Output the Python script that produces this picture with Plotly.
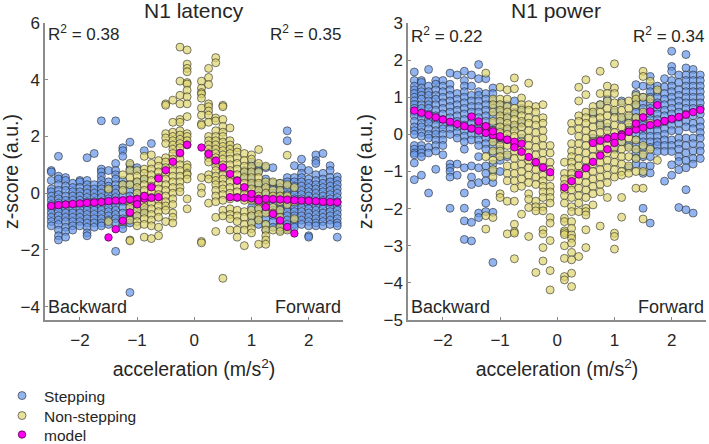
import plotly.graph_objects as go

# ---------- N1 latency: x positions and the y values seen in each column ----------
lat_step_x = [-2.5,-2.375,-2.25,-2.125,-2.0,-1.875,-1.75,-1.625,-1.5,-1.375,-1.25,-1.125,-1.0,-0.875,-0.75,
              0.875,1.0,1.125,1.25,1.375,1.5,1.625,1.75,1.875,2.0,2.125,2.25,2.375,2.5]
lat_step_y = [
 [.8,.75,.45,.15,.05,-.1,-.25,-.4,-.55,-.7,-.85,-1.0,-1.15],
 [1.3,.6,.5,.3,.1,-.05,-.2,-.35,-.5,-.65,-.8,-.95,-1.1,-1.3,-1.5,-1.65],
 [.55,.45,.25,.1,-.1,-.25,-.4,-.55,-.7,-.85,-1,-1.2,-1.35,-1.55],
 [.35,.2,.05,-.1,-.25,-.4,-.55,-.7,-.85,-1,-1.15,-1.3],
 [.45,.4,.2,.05,-.1,-.25,-.4,-.55,-.7,-.85,-1,-1.15],
 [1.25,.45,.3,.15,0,-.15,-.3,-.45,-.6,-.75,-.9,-1.05,-1.2,-1.4,-1.5],
 [1.4,.3,.15,0,-.15,-.3,-.45,-.6,-.75,-.9,-1.05,-1.2],
 [2.55,.85,.75,.6,.45,.3,.15,0,-.15,-.3,-.45,-.6,-.75,-.9,-1.05,-1.15],
 [.8,.4,.25,.1,-.05,-.2,-.35,-.5,-.65,-.8,-.95,-1.1],
 [2.55,1.05,.8,.65,.5,.3,.15,0,-.15,-.3,-.45,-.6,-.75,-.9,-1.05,-2.05],
 [1.6,1.5,1.3,.45,.3,.1,-.1,-.3,-.5,-.7,-.9,-1.1,-1.25],
 [1.8,1.0,.85,.3,.1,-.1,-.3,-.5,-.7,-.9,-1.05,-3.5],
 [.9,.4,.1,-.2,-.5,-.8],
 [1.5,.5,-.2,-.6],
 [1.75],
 [.8,.6],
 [1.1,.9,.75,.5,.3,-.2,-.5,-.8,-1.05],
 [.95,.8,.3,0,-.3,-.6,-.9,-1.1],
 [.9,.5,.3,0,-.3,-.6,-.9,-1.1,-1.3],
 [.9,.35,.15,0,-.2,-.4,-.6,-.8,-1,-1.2],
 [.35,.2,.05,-.1,-.25,-.4,-.55,-.7,-.85,-1,-1.15,-1.3],
 [2.2,1.85,.55,.4,.25,.1,-.05,-.2,-.35,-.5,-.65,-.8,-.95,-1.1,-1.25],
 [.97,.55,.4,.25,.1,-.05,-.2,-.35,-.5,-.65,-.8,-.95,-1.1,-1.2],
 [1.2,.9,.7,.55,.4,.25,.1,-.05,-.2,-.35,-.5,-.65,-.8,-.95,-1.1],
 [.8,.5,.35,.2,.05,-.1,-.25,-.4,-.55,-.7,-.85,-1,-1.15,-1.5,-1.55],
 [1.35,1.15,1.05,.65,.45,.3,.15,0,-.15,-.3,-.45,-.6,-.75,-.9,-1.05,-1.15],
 [1.4,.7,.5,.35,.2,.05,-.1,-.25,-.4,-.55,-.7,-.85,-1,-1.15],
 [.97,.8,.55,.4,.25,.1,-.05,-.2,-.35,-.5,-.65,-.8,-.95,-1.1],
 [.58,.45,.3,.15,0,-.15,-.3,-.45,-.6,-.75,-.9,-1.05,-1.15,-1.55],
]
lat_non_x = [-1.5,-1.25,-1.125,-1.0,-0.875,-0.75,-0.625,-0.5,-0.375,-0.25,-0.125,
             0.125,0.25,0.375,0.5,0.625,0.75,0.875,1.0,1.125,1.25,1.375,1.5,1.625,1.75]
lat_non_y = [
 [.15,-1.0],
 [.65,.3,.1,-1.0],
 [1.05,.8,.55,.3,-.3,-.5,-.7,-.95,-1.65,-1.68],
 [.8,.6,.4,.2,0,-.2,-.4,-.6,-.8,-1.0,-1.15],
 [1.3,.85,.7,.5,.3,.1,-.1,-.3,-.5,-.7,-.9,-1.1,-1.55],
 [1.35,1.05,.85,.65,.45,.25,.05,-.15,-.35,-.55,-.75,-.95,-1.15,-1.6],
 [1.15,.95,.75,.55,.35,.15,-.05,-.25,-.45,-.65,-.85,-1.2,-1.5],
 [3.15,3.1,2.1,1.95,1.75,1.25,1.1,.9,.7,.5,.3,.1,-.1,-.3,-.45,-.6,-1.0],
 [3.28,2.5,2.15,2.0,1.85,1.7,1.55,1.4,1.2,1.0,.8,.6,.4,.2,0,-.2,-.4,-.7,-.85,-1.05],
 [5.15,3.95,3.45,3.15,2.6,2.5,2.2,2.05,1.9,1.75,1.6,1.4,1.2,1.0,.8,.6,.4,.2,.05],
 [5.05,4.55,4.4,4.28,3.9,3.85,3.63,3.4,3.15,2.7,2.1,2,1.85,1.7,1.0,.9,.7,.65,.5,-.2,-.55],
 [3.95,3.7,3.55,3.5,3.35,3.0,2.75,2.45,2.4,.55,.2,0,-1.7,-1.75],
 [4.4,4.08,3.83,3.15,3.05,2.9,2.75,2.5,2.0,1.85,1.7,1.55,1.4,1.25,1.1,.65,.5,-.35],
 [4.78,4.6,2.65,2.55,2.2,2,1.85,1.7,1.55,1.4,1.25,1.1,.95,.8,.6,.45,.3,.1,-.1,-.3,-.85,-1.35],
 [3.1,3.05,2.6,2.35,2.15,2,1.8,1.65,1.5,1.35,1.2,1.0,.85,.65,.5,.3,.15,-.05,-.25,-.6,-.8,-3.0],
 [2.3,1.85,1.7,1.55,1.4,1.2,1.0,.8,.6,.4,.2,0,-.2,-.55,-.75,-.9,-1.3],
 [1.6,1.45,1.25,1.05,.85,.65,.45,.25,.05,-.15,-.6,-.8,-1,-1.3,-1.55],
 [1.4,1.15,.95,.75,.55,.35,.15,-.05,-.25,-.65,-.85,-1.1,-1.3,-1.85],
 [1.35,1.2,.95,.75,.55,.35,.15,-.05,-.25,-.6,-.8,-1.05,-1.25,-1.4],
 [1.54,1.05,.75,.55,.35,.1,-.1,-.3,-.55,-.75,-.95,-1.8],
 [.95,.4,.2,0,-.25,-.45,-.7,-1.1,-1.3,-1.5,-1.65,-1.8],
 [.4,.1,-.1,-.5,-.7,-1.3],
 [.35,.1,-.1,-.3,-.6,-.85,-1.2,-1.35],
 [1.34,.3,-.1,-.4,-1.3],
 [.2,-.3,-.9],
]
lat_model_step_x = [-2.5,-2.375,-2.25,-2.125,-2.0,-1.875,-1.75,-1.625,-1.5,-1.375,-1.25,-1.125,-1.0,-0.875,-0.75,-0.625,
                    0.625,0.75,0.875,1.0,1.125,1.25,1.375,1.5,1.625,1.75,1.875,2.0,2.125,2.25,2.375,2.5]
lat_model_step_y = [-.45,-.42,-.4,-.38,-.36,-.34,-.33,-.31,-.28,-.26,-.25,-.22,-.21,-.19,-.16,-.14,
                    -.14,-.15,-.16,-.18,-.2,-.2,-.21,-.22,-.23,-.25,-.26,-.27,-.28,-.3,-.31,-.32]
lat_model_non_x = [-1.5,-1.375,-1.25,-1.125,-1.0,-0.875,-0.75,-0.625,-0.5,-0.375,-0.25,-0.125,
                   0.125,0.25,0.375,0.5,0.625,0.75,0.875,1.0,1.125,1.25,1.375,1.5,1.625,1.75]
lat_model_non_y = [-1.56,-1.27,-.97,-.68,-.39,-.1,.21,.52,.81,1.11,1.42,1.71,
                   1.61,1.38,1.15,.91,.68,.44,.21,-.02,-.26,-.49,-.73,-.96,-1.19,-1.42]

# ---------- N1 power ----------
pow_step_x = [-2.5,-2.375,-2.25,-2.125,-2.0,-1.875,-1.75,-1.625,-1.5,-1.375,-1.25,-1.125,-1.0,-0.875,-0.75,-0.625,
              0.625,0.75,0.875,1.0,1.125,1.25,1.375,1.5,1.625,1.75,1.875,2.0,2.125,2.25,2.375,2.5]
pow_step_y = [
 [1.68,1.45,1.3,1.2,1.1,1.0,.9,.8,.7,.6,.5,.35,.2,.1,0,-.3,-.4,-.5,-.55,-.77,-1.22],
 [1.45,1.4,1.25,1.15,1.05,.95,.8,.7,.55,.45,.3,.2,.05,-.05,-.3,-.4,-.5,-.6,-1.1],
 [1.75,1.3,1.15,1.05,.9,.8,.7,.55,.4,.3,.15,0,-.1,-.35,-.5,-1.58],
 [1.45,1.35,1.2,1.05,.95,.8,.65,.5,.4,.25,.1,0,-.15,-.3,-.45,-.94],
 [1.45,1.3,1.15,1.0,.85,.7,.55,.4,.25,.15,0,-.15,-.3,-.55],
 [1.65,1.35,1.2,1.05,.9,.75,.6,.45,.3,.15,0,-.8,-.9,-1.0,-1.15,-1.99],
 [1.6,1.1,.95,.8,.65,.5,.35,.2,.05,-.1,-.8,-1.1],
 [1.7,1.45,1.3,1.15,1.0,.85,.7,.55,.4,.25,.1,-.05,-.2,-.4,-.9,-1.58,-1.99,-2.33,-2.83],
 [1.6,1.3,1.05,.9,.75,.6,.45,.3,.15,0,-.15,-.85,-1.15,-1.35,-2.37,-2.87],
 [1.88,1.5,1.15,1.05,.9,.75,.6,.45,.3,.15,0,-.15,-.3,-.6,-.9,-1.3,-2.12,-2.24],
 [1.5,1.1,.95,.8,.65,.5,.35,.2,.05,-.1,-.25,-.4,-.85,-1.05,-1.25,-1.85,-2.08],
 [1.25,1.1,.9,.7,.5,.3,.1,-.1,-.3,-.5,-.8,-1.0,-1.3,-2.1,-3.45],
 [.8,.6,.35,.1,-.15,-.4,-.7,-1.0],
 [.8,.5,.2,-.1,-.6],
 [.9,.6,.2,-.3],
 [.7,.3,-.1],
 [.55,-.1],
 [.8,.3],
 [.95,.2],
 [.6,-.4],
 [.9,.4,-.2],
 [.45,.2,-.3,-.9],
 [1.34,1.1,.9,.75,.6,.45,.3,.15,0,-.15,-.3,-.5,-.65,-.8],
 [1.3,1.0,.85,.7,.55,.4,.25,.1,-.05,-.2,-.35,-.6,-.85,-1.05,-1.99],
 [1.56,1.3,1.15,1.0,.85,.7,.55,.4,.25,.1,-.05,-.2,-.35,-.6,-.85,-1.04,-2.39],
 [1.3,1.15,1.0,.85,.7,.55,.4,.25,.1,-.05,-.2,-.3,-.46],
 [1.5,1.28,1.1,.95,.8,.65,.5,.35,.15,0,-.15,-.3,-.46,-1.26],
 [2.24,1.83,1.7,1.45,1.3,1.15,1.0,.85,.7,.55,.4,.25,.1,-.15,-.3,-.46,-.82,-1.1],
 [1.6,1.4,1.2,1.05,.9,.75,.6,.45,.3,.1,-.1,-.25,-.4,-.6,-.73,-.95,-1.97],
 [2.15,1.79,1.6,1.45,1.3,1.15,1.0,.85,.7,.55,.35,.2,-.1,-.3,-.5,-.7,-.9,-1.49,-2.03],
 [1.75,1.6,1.45,1.3,1.15,1.0,.85,.7,.5,.3,.15,-.1,-.25,-.45,-.65,-.8,-2.12],
 [1.6,1.45,1.3,1.15,1.0,.85,.7,.55,.35,.2,.05,-.1,-.3,-.45,-.65],
]
pow_non_x = [-1.25,-1.125,-1.0,-0.875,-0.75,-0.625,-0.5,-0.375,-0.25,-0.125,
             0.125,0.25,0.375,0.5,0.625,0.75,0.875,1.0,1.125,1.25,1.375,1.5,1.625,1.75]
pow_non_y = [
 [1.65,.2,-.6,-2.19,-2.55],
 [.95,.8,.6,.35,.1,-.2,-.45,-.7,-.95,-1.15,-2.24],
 [1.27,.95,.8,.65,.5,.35,.2,.05,-.1,-.3,-.45,-.6,-1.6,-1.7],
 [1.2,.95,.75,.6,.45,.3,.15,0,-.3,-.55,-.85,-1.05,-1.25,-1.8,-2.68],
 [1.52,1.23,.7,.55,.4,.25,.1,-.05,-.25,-.45,-.65,-.85,-1.05,-1.25,-1.45,-1.8,-2.42,-2.62,-2.66,-3.35],
 [.98,.8,.65,.5,.35,.2,0,-.2,-.4,-.6,-.8,-1.0,-1.2,-1.4,-2.15],
 [1.38,.8,.65,.45,.3,.1,-.1,-.3,-.5,-.7,-.9,-1.1,-1.3,-1.6,-1.75,-1.97,-2.75],
 [.75,.6,.4,.25,.05,-.15,-.35,-.55,-.75,-.95,-1.15,-1.35,-1.8,-1.95,-2.06,-3.72],
 [.8,.45,.3,.1,-.1,-.3,-.5,-.7,-.9,-1.1,-1.25,-1.4,-1.55,-1.7,-1.95,-2.06,-2.57,-2.68,-3.05,-3.41],
 [-.3,-.5,-.75,-.95,-1.15,-1.4,-1.55,-1.7,-1.85,-2.24,-2.39,-2.86,-3.67,-4.19],
 [-.75,-1.05,-1.2,-1.35,-1.5,-1.65,-1.85,-2.26,-2.35,-2.6,-2.65,-2.7,-3.0,-3.34,-3.83,-3.92],
 [.3,.1,-.25,-.45,-.6,-.75,-.9,-1.05,-1.2,-1.35,-1.5,-1.7,-1.95,-2.08,-2.35,-2.53,-2.71,-2.8,-2.93,-3.18,-3.38,-3.74,-4.1],
 [1.27,.9,.5,.35,.15,-.05,-.25,-.45,-.65,-.85,-1.05,-1.25,-1.45,-1.65,-1.85,-2.08,-3.29],
 [1.47,1.07,.6,.45,.3,.1,-.1,-.3,-.5,-.7,-.9,-1.1,-1.3,-1.5,-1.7,-1.99,-2.08,-2.17,-2.57,-3.05],
 [.75,.6,.4,.2,0,-.2,-.4,-.6,-.8,-1.0,-1.2,-1.4,-1.6,-1.9],
 [1.7,1.1,.8,.6,.45,.25,.05,-.15,-.35,-.55,-.75,-.95,-1.15,-1.35,-1.55,-2.47],
 [1.3,1.1,.9,.7,.5,.3,.1,-.1,-.3,-.5,-.7,-.9,-1.1,-1.3,-1.7],
 [1.9,1.25,1.1,.85,.65,.45,.25,.05,-.15,-.35,-.55,-.75,-.95,-1.15,-2.66,-2.75,-3.09],
 [.85,.65,.45,.2,0,-.2,-.4,-.6,-.8,-1.0,-1.1,-1.7,-2.23],
 [.9,.7,.5,.3,.1,-.1,-.35,-.6,-.85,-1.05],
 [1.05,.95,.8,.45,.2,-.15,-.4,-.65,-1.0,-1.45],
 [1.7,1.56,1.0,.6,-.3,-.55,-1.0,-1.45,-2.28],
 [1.43,.95,.3,-.4],
 [1.2,-.7],
]
pow_model_step_x = [-2.5,-2.375,-2.25,-2.125,-2.0,-1.875,-1.75,-1.625,-1.5,-1.375,-1.25,-1.125,-1.0,-0.875,-0.75,-0.625,
                    0.625,0.75,0.875,1.0,1.125,1.25,1.375,1.5,1.625,1.75,1.875,2.0,2.125,2.25,2.375,2.5]
pow_model_step_y = [.64,.58,.52,.46,.4,.34,.28,.22,.16,.1,.04,-.02,-.08,-.15,-.2,-.25,
                    -.23,-.17,-.11,-.06,-.01,.07,.13,.18,.25,.3,.36,.42,.47,.53,.6,.66]
pow_model_non_x = [-1.5,-1.375,-1.25,-1.125,-1.0,-0.875,-0.75,-0.625,-0.5,-0.375,-0.25,-0.125,
                   0.125,0.25,0.375,0.5,0.625,0.75,0.875,1.0,1.125,1.25,1.375,1.5,1.625,1.75]
pow_model_non_y = [.48,.35,.22,.08,-.05,-.14,-.35,-.47,-.61,-.75,-.89,-1.02,
                   -1.43,-1.26,-1.08,-.91,-.74,-.57,-.4,-.23,-.06,.07,.29,.46,.62,.79]

x_tick_vals = [-2, -1, 0, 1, 2]
x_tick_text = ["\u22122", "\u22121", "0", "1", "2"]
lat_tick_vals = [-4, -2, 0, 2, 4, 6]
lat_tick_text = ["\u22124", "\u22122", "0", "2", "4", "6"]
pow_tick_vals = [-5, -4, -3, -2, -1, 0, 1, 2, 3]
pow_tick_text = ["\u22125", "\u22124", "\u22123", "\u22122", "\u22121", "0", "1", "2", "3"]

STEP_FILL = "rgba(100,150,235,0.7)"
NON_FILL = "rgba(222,212,110,0.7)"
EDGE = "rgba(40,40,40,0.6)"
MODEL_FILL = "#ff00f0"
MODEL_EDGE = "rgba(60,0,60,0.7)"
FONT = "Liberation Sans"
TEXT = "#262626"


def expand(xs, cols):
    out_x, out_y = [], []
    for x, col in zip(xs, cols):
        for y in col:
            out_x.append(x)
            out_y.append(y)
    return out_x, out_y


fig = go.Figure()


def scatter(x, y, fill, name, axis, legend=None, edge=EDGE, size=8):
    fig.add_trace(go.Scatter(
        x=x, y=y, mode="markers", name=name, showlegend=legend is not None,
        legend=legend or "legend",
        xaxis="x" + axis, yaxis="y" + axis,
        marker=dict(size=size, color=fill, line=dict(color=edge, width=1)),
    ))


lx, ly = expand(lat_step_x, lat_step_y)
scatter(lx, ly, STEP_FILL, "Stepping", "", "legend")
lx, ly = expand(lat_non_x, lat_non_y)
scatter(lx, ly, NON_FILL, "Non-stepping", "", "legend2")
scatter(lat_model_step_x, lat_model_step_y, MODEL_FILL, "model", "", "legend3", MODEL_EDGE, 7.5)
scatter(lat_model_non_x, lat_model_non_y, MODEL_FILL, "model", "", None, MODEL_EDGE, 7.5)
px_, py_ = expand(pow_step_x, pow_step_y)
scatter(px_, py_, STEP_FILL, "Stepping", "2")
px_, py_ = expand(pow_non_x, pow_non_y)
scatter(px_, py_, NON_FILL, "Non-stepping", "2")
scatter(pow_model_step_x, pow_model_step_y, MODEL_FILL, "model", "2", None, MODEL_EDGE, 7.5)
scatter(pow_model_non_x, pow_model_non_y, MODEL_FILL, "model", "2", None, MODEL_EDGE, 7.5)

W, H = 709, 444


def x_axis(left, right, anchor):
    return dict(domain=[left / W, right / W], range=[-2.61, 2.6], anchor=anchor, automargin=False,
                tickmode="array", tickvals=x_tick_vals, ticktext=x_tick_text,
                ticks="inside", ticklen=3, tickcolor="#888", tickwidth=1, ticklabelstandoff=4,
                showline=True, linecolor="#8c8c8c", linewidth=1.5, showgrid=False, zeroline=False,
                tickfont=dict(family=FONT, size=17, color=TEXT),
                title=dict(text="acceleration (m/s<sup>2</sup>)", standoff=13,
                           font=dict(family=FONT, size=19.5, color=TEXT)))


def y_axis(vals, text, rng, anchor):
    return dict(domain=[(H - 320) / H, (H - 23) / H], range=rng, anchor=anchor, automargin=False,
                tickmode="array", tickvals=vals, ticktext=text,
                ticks="inside", ticklen=3, tickcolor="#888", tickwidth=1,
                showline=True, linecolor="#8c8c8c", linewidth=1.5, showgrid=False, zeroline=False,
                tickfont=dict(family=FONT, size=17, color=TEXT),
                title=dict(text="z-score (a.u.)", standoff=6,
                           font=dict(family=FONT, size=19.5, color=TEXT)))


def note(text, x, y, xanchor, axis, size=17):
    return dict(text=text, x=x, y=y, xref="x" + axis, yref="y" + axis, xanchor=xanchor,
                yanchor="middle", showarrow=False, font=dict(family=FONT, size=size, color=TEXT))


def title_note(text, x):
    return dict(text=text, x=x / W, y=(H - 11) / H, xref="paper", yref="paper",
                xanchor="center", yanchor="middle",
                showarrow=False, font=dict(family=FONT, size=21, color=TEXT))


def legend_at(py):
    return dict(x=0, y=(H - py) / H, xanchor="left", yanchor="middle", bgcolor="rgba(0,0,0,0)",
                font=dict(family=FONT, size=15.5, color=TEXT), itemsizing="trace",
                itemwidth=34, borderwidth=0)


fig.update_layout(
    width=W, height=H, autosize=False,
    margin=dict(l=0, r=0, t=0, b=0, autoexpand=False),
    paper_bgcolor="white", plot_bgcolor="white",
    xaxis=x_axis(45, 343, "y"), yaxis=y_axis(lat_tick_vals, lat_tick_text, [-4.47, 6], "x"),
    xaxis2=x_axis(408, 706, "y2"), yaxis2=y_axis(pow_tick_vals, pow_tick_text, [-5, 3], "x2"),
    legend=legend_at(396), legend2=legend_at(416), legend3=legend_at(435),
    annotations=[
        title_note("N1 latency", 194),
        title_note("N1 power", 556),
        note("R<sup>2</sup> = 0.38", -2.6, 5.65, "left", ""),
        note("R<sup>2</sup> = 0.35", 2.6, 5.65, "right", ""),
        note("Backward", -2.6, -4.0, "left", "", 18),
        note("Forward", 2.6, -4.0, "right", "", 18),
        note("R<sup>2</sup> = 0.22", -2.6, 2.67, "left", "2"),
        note("R<sup>2</sup> = 0.34", 2.6, 2.67, "right", "2"),
        note("Backward", -2.6, -4.65, "left", "2", 18),
        note("Forward", 2.6, -4.65, "right", "2", 18),
    ],
)

fig.write_html("out.html", config=dict(displayModeBar=False),
               post_script="document.body.style.margin='0';document.documentElement.style.overflow='hidden';")
